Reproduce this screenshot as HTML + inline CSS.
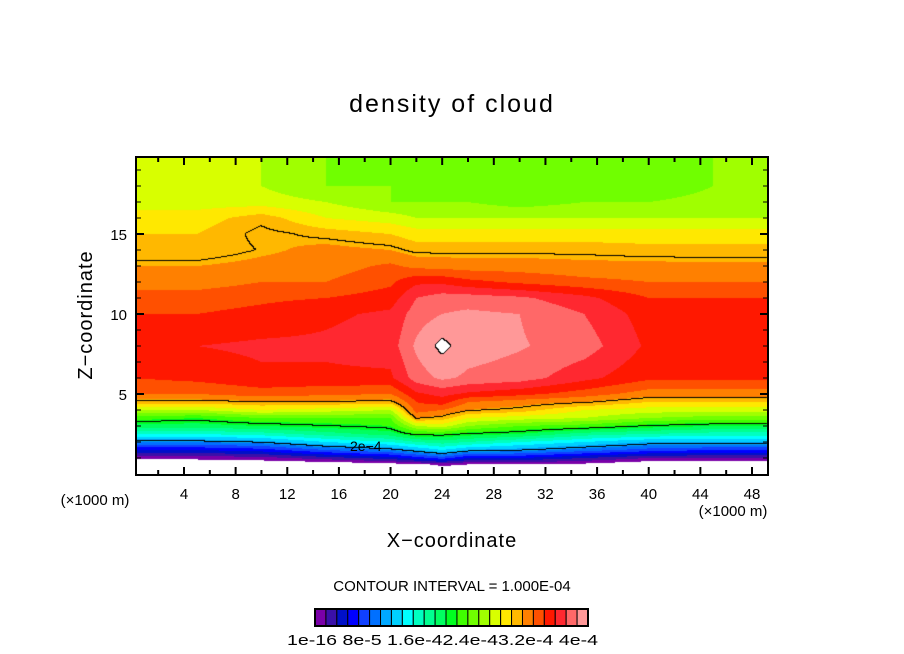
<!DOCTYPE html>
<html><head><meta charset="utf-8"><style>
html,body{margin:0;padding:0;background:#fff;width:904px;height:654px;overflow:hidden}
svg text{font-family:"Liberation Sans",sans-serif;fill:#000}
</style></head><body>
<div style="position:relative;width:904px;height:654px">
<canvas id="field" width="632" height="318" style="position:absolute;left:136px;top:157px"></canvas>
<svg id="ov" width="904" height="654" style="position:absolute;left:0;top:0">
<text x="452" y="112" font-size="25" text-anchor="middle" letter-spacing="2">density of cloud</text>
<text transform="translate(92,315) rotate(-90)" font-size="20" text-anchor="middle" letter-spacing="1">Z−coordinate</text>
<text x="452" y="547" font-size="20" text-anchor="middle" letter-spacing="1">X−coordinate</text>
<text x="95" y="505" font-size="15" text-anchor="middle">(×1000 m)</text>
<text x="733" y="516" font-size="15" text-anchor="middle">(×1000 m)</text>
<text x="452" y="591" font-size="15" text-anchor="middle">CONTOUR INTERVAL = 1.000E-04</text>
<text x="287" y="645" font-size="15" textLength="311" lengthAdjust="spacingAndGlyphs">1e-16 8e-5 1.6e-42.4e-43.2e-4 4e-4</text>
<g id="axes"></g>
<g id="cbar"></g>
</svg>
</div>
<script>
const xGrid=[0,5,10,15,20,22,24,26,30,35,40,45,50];
const zGrid=[0,0.6,1,1.5,2,2.5,3,3.5,4,4.5,5,6,8,10,11,12,13,14,15,16,17,18,20];
const field=[
[-1,-1,-1,-1,-1,-1,-1,-1,-1,-1,-1,-1,-1],
[-1,-1,-1,-1,-0.5,-0.2,0.2,0,0,-0.3,-1,-1,-1],
[0.3,0.3,0.6,1.5,2.5,3.5,4.5,3,3,2,1,1,1],
[3,3,3.5,5,6,7,8,7,6.5,5.5,4.5,4,4],
[6,6,6.5,8,9,10,10.5,10,9,8,7,7,7],
[9,9,9.5,10.5,11.5,13,13,12.5,12,10.5,10,9.5,9.5],
[11.5,11.5,12,12.5,13,16,16.5,15,14,13.5,12.5,12,12],
[13.5,13,14,14,14,19,18.5,17,16.5,16,15,14.5,14.5],
[16,16,17,16.5,16,20.5,20,19,18.5,17,16.5,16.5,16.5],
[18.5,18.5,18.8,18.8,18.5,21,21.5,20,19.5,19,18,18,18],
[20,20,20.5,20.2,20,21.8,22.3,21.8,21.3,20.5,19.5,19.5,19.5],
[21,21.3,21.8,21.8,21.8,23.5,24.2,23.8,23.5,22.3,21.2,21.2,21.2],
[21.5,22,22.2,22.2,22.5,24.2,25.3,24.5,24.1,23.5,21.8,21.5,21.5],
[21,21,21.3,21.8,22.2,23.5,24,24.2,24,23,21.5,21,21],
[20.5,20.5,20.8,21,21.5,23,23.5,23.5,23.2,22.3,21,21,21],
[19.5,19.5,20,20,20.8,21.8,21.8,21.3,20.8,20.3,20,20,20],
[19,19,19.3,19.5,20.2,19.7,19.6,19.5,19.5,19.3,19.3,19.2,19.2],
[18.2,18.2,18.8,19.3,19,18.5,18.5,18.5,18.5,18.5,18.3,18.3,18.3],
[18,18,19,18.5,18,17.5,17.5,17.5,17.5,17.5,17.5,17.5,17.5],
[17.5,17.5,18.5,17,16.5,16,16,16,16,16,16,16,16],
[16.5,16.5,16.5,16,15,15,15,15,14.5,15,15,15.5,16],
[16,16,16,15,15,14,14,14,14,14,14,15,16],
[16,16,16,15,14,14,14,14,14,14,15,15,16]];
const levelColors=["#7a00a8","#3a10a8","#0010c8","#0000ff","#1040ff","#0070ff","#00a8ff","#00d0ff","#00ffff","#00ffc0","#00ff90","#00ff60","#00ff20","#40ff00","#70ff00","#a0ff00","#d8ff00","#ffe800","#ffb800","#ff8000","#ff5000","#ff1800","#ff2830","#ff6868","#ff9898"];
const xTicks=[4,8,12,16,20,24,28,32,36,40,44,48];
const zTicks=[5,10,15];

const PL=136,PT=157,PW=632,PH=318;
const KX=12.909,X0=132.36,KZ=16,Z0=474;
function xs(x){return X0+x*KX;}
function zs(z){return Z0-z*KZ;}
function seg(arr,v){let i=0;while(i<arr.length-2&&v>arr[i+1])i++;let t=(v-arr[i])/(arr[i+1]-arr[i]);return [i,Math.max(0,Math.min(1,t))];}
function sample(x,z){const [i,tx]=seg(xGrid,x),[j,tz]=seg(zGrid,z);
 const a=field[j][i],b=field[j][i+1],c=field[j+1][i],d=field[j+1][i+1];
 return (a*(1-tx)+b*tx)*(1-tz)+(c*(1-tx)+d*tx)*tz;}
function hex(h){return [parseInt(h.substr(1,2),16),parseInt(h.substr(3,2),16),parseInt(h.substr(5,2),16)];}
const rgb=levelColors.map(hex);
const cv=document.getElementById('field'),ctx=cv.getContext('2d');
const img=ctx.createImageData(PW,PH);
const vals=new Float32Array(PW*PH);
for(let py=0;py<PH;py++)for(let px=0;px<PW;px++){
 const x=(PL+px+0.5-X0)/KX,z=(Z0-(PT+py+0.5))/KZ;
 vals[py*PW+px]=sample(x,z);}
const thr=[6.25,12.5,18.75,25];
for(let py=0;py<PH;py++)for(let px=0;px<PW;px++){
 const v=vals[py*PW+px];let c;
 if(v<0||v>=25)c=[255,255,255];else c=rgb[Math.min(24,Math.floor(v))];
 let line=false;
 if(px+1<PW&&py+1<PH){const r=vals[py*PW+px+1],d=vals[(py+1)*PW+px];
  for(const t of thr){if((v-t)*(r-t)<0||(v-t)*(d-t)<0){line=true;break;}}}
 if(line)c=[0,0,0];
 const k=(py*PW+px)*4;img.data[k]=c[0];img.data[k+1]=c[1];img.data[k+2]=c[2];img.data[k+3]=255;}
ctx.putImageData(img,0,0);

const NS="http://www.w3.org/2000/svg";
const ax=document.getElementById('axes');
function mk(tag,at,parent){const e=document.createElementNS(NS,tag);for(const k in at)e.setAttribute(k,at[k]);parent.appendChild(e);return e;}
const frame=mk('rect',{x:PL,y:PT,width:PW,height:PH,fill:'none',stroke:'#000','stroke-width':2},ax);


for(let x=2;x<50;x+=2){const X=xs(x),L=(x%4===0)?8:5;
 const t1=mk('line',{x1:X,y1:PT+PH,x2:X,y2:PT+PH-L,stroke:'#000','stroke-width':2},ax);
 
 
 const t2=mk('line',{x1:X,y1:PT,x2:X,y2:PT+L,stroke:'#000','stroke-width':2},ax);
 
 }
for(let z=1;z<20;z++){const Y=zs(z),L=(z%5===0)?8:5;
 const t1=mk('line',{x1:PL,y1:Y,x2:PL+L,y2:Y,stroke:'#000','stroke-width':(z%5===0)?2:1},ax);
 
 
 const t2=mk('line',{x1:PL+PW,y1:Y,x2:PL+PW-L,y2:Y,stroke:'#000','stroke-width':(z%5===0)?2:1},ax);
 
 }
xTicks.forEach(x=>{const t=mk('text',{x:xs(x),y:499,'font-size':15,'text-anchor':'middle'},ax);t.textContent=x;
 
 });
zTicks.forEach(z=>{const t=mk('text',{x:127,y:zs(z)+6,'font-size':15,'text-anchor':'end'},ax);t.textContent=z;
 
 });
const lab=mk('text',{x:350,y:451,'font-size':14},ax);lab.textContent='2e−4';


const cb=document.getElementById('cbar');
const cbL=315,cbR=588,bw=(cbR-cbL)/levelColors.length;
levelColors.forEach((c,i)=>{const r=mk('rect',{x:cbL+i*bw,y:609,width:bw,height:17,fill:c,stroke:'#000','stroke-width':1},cb);
 
 });
const cbf=mk('rect',{x:cbL,y:609,width:cbR-cbL,height:17,fill:'none',stroke:'#000','stroke-width':2},cb);


</script>
</body></html>
